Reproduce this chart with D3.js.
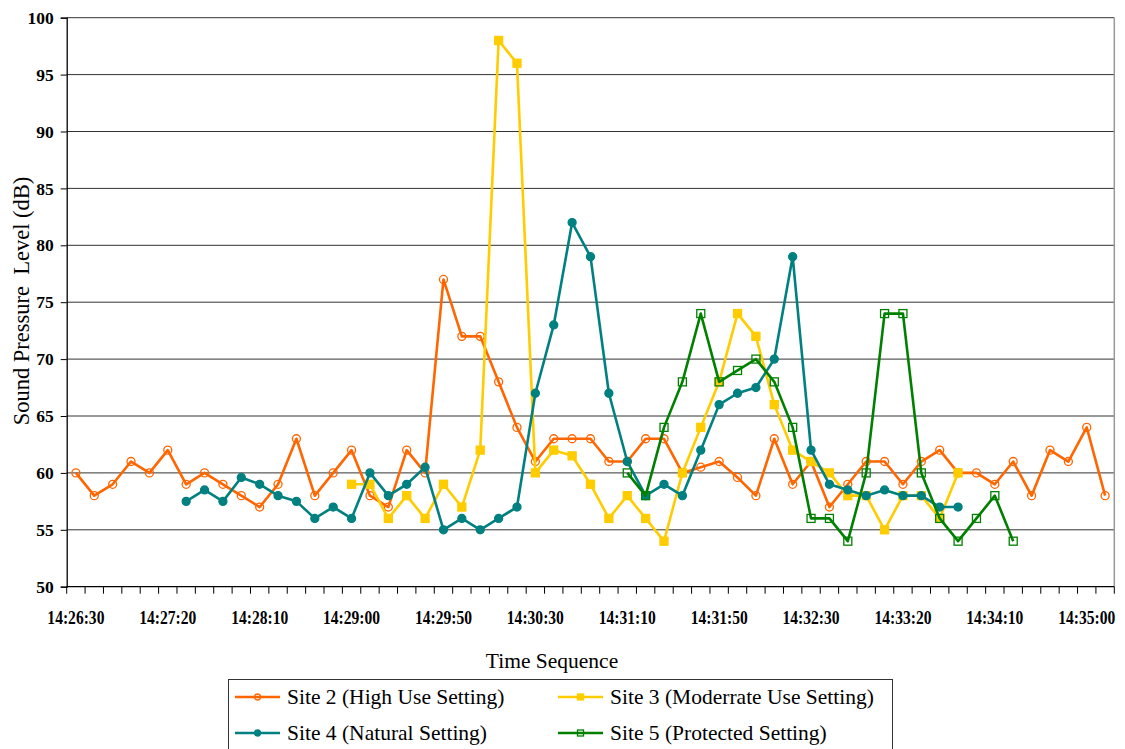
<!DOCTYPE html>
<html>
<head>
<meta charset="utf-8">
<script src="https://cdn.jsdelivr.net/npm/d3@7"></script>
<style>
  html, body { margin: 0; padding: 0; background: #fff; }
  svg { display: block; }
  text { font-family: "Liberation Serif", "Times New Roman", serif; fill: #000; }
</style>
</head>
<body>
<svg id="chart" width="1125" height="749"></svg>
<script>
// ---- data ----
const categories = [
  "14:26:30","14:26:40","14:26:50","14:27:00","14:27:10",
  "14:27:20","14:27:30","14:27:40","14:27:50","14:28:00",
  "14:28:10","14:28:20","14:28:30","14:28:40","14:28:50",
  "14:29:00","14:29:10","14:29:20","14:29:30","14:29:40",
  "14:29:50","14:29:58","14:30:06","14:30:14","14:30:22",
  "14:30:30","14:30:38","14:30:46","14:30:54","14:31:02",
  "14:31:10","14:31:18","14:31:26","14:31:34","14:31:42",
  "14:31:50","14:31:58","14:32:06","14:32:14","14:32:22",
  "14:32:30","14:32:40","14:32:50","14:33:00","14:33:10",
  "14:33:20","14:33:30","14:33:40","14:33:50","14:34:00",
  "14:34:10","14:34:20","14:34:30","14:34:40","14:34:50",
  "14:35:00","14:35:10"
];
const labelEvery = 5;

const site2 = [60,58,59,61,60,62,59,60,59,58,
               57,59,63,58,60,62,58,57,62,60,
               77,72,72,68,64,61,63,63,63,61,
               61,63,63,60,60.5,61,59.6,58,63,59,
               61,57,59,61,61,59,61,62,60,60,
               59,61,58,62,61,64,58];
const site3 = [null,null,null,null,null,null,null,null,null,null,
               null,null,null,null,null,59,59,56,58,56,
               59,57,62,98,96,60,62,61.5,59,56,
               58,56,54,60,64,68,74,72,66,62,
               61,60,58,58,55,58,58,56,60,null,
               null,null,null,null,null,null,null];
const site4 = [null,null,null,null,null,null,57.5,58.5,57.5,59.6,
               59,58,57.5,56,57,56,60,58,59,60.5,
               55,56,55,56,57,67,73,82,79,67,
               61,58,59,58,62,66,67,67.5,70,79,
               62,59,58.5,58,58.5,58,58,57,57,null,
               null,null,null,null,null,null,null];
const site5 = [null,null,null,null,null,null,null,null,null,null,
               null,null,null,null,null,null,null,null,null,null,
               null,null,null,null,null,null,null,null,null,null,
               60,58,64,68,74,68,69,70,68,64,
               56,56,54,60,74,74,60,56,54,56,
               58,54,null,null,null,null,null];

const seriesNames = ["Site 2 (High Use Setting)","Site 3 (Moderrate Use Setting)",
                     "Site 4 (Natural Setting)","Site 5 (Protected Setting)"];
const yTicks = [50,55,60,65,70,75,80,85,90,95,100];

// ---- styles ----
const styles = [
  {color:"#FF6600", marker:"circle", fill:"none"},
  {color:"#FFCC00", marker:"square", fill:"#FFCC00"},
  {color:"#008080", marker:"circle", fill:"#008080"},
  {color:"#008000", marker:"square", fill:"none"}
];
const seriesData = [site2, site3, site4, site5];

const svg = d3.select("#chart");
const L = 66.7, R = 1114.3, T = 17.7, B = 586.7;

const x = d3.scaleBand().domain(categories).range([L, R]).padding(0);
const y = d3.scaleLinear().domain([50,100]).range([B, T]);
const cx = c => x(c) + x.bandwidth()/2;

// gridlines
svg.append("g").selectAll("line").data(yTicks.filter(v => v > 50)).join("line")
  .attr("x1", L).attr("x2", R)
  .attr("y1", d => y(d)).attr("y2", d => y(d))
  .attr("stroke", "#333").attr("stroke-width", 1);

// right border
svg.append("line").attr("x1", R).attr("x2", R).attr("y1", T).attr("y2", B)
  .attr("stroke", "#999").attr("stroke-width", 1.5);

// y axis
const yAxis = svg.append("g").attr("transform", `translate(${L},0)`)
  .call(d3.axisLeft(y).tickValues(yTicks).tickSize(6).tickPadding(7).tickFormat(d3.format("d")));
yAxis.select(".domain").attr("stroke", "#000").attr("stroke-width", 1.3);
yAxis.selectAll(".tick line").attr("stroke", "#000");
yAxis.selectAll(".tick text")
  .style("font-family", '"Liberation Serif", serif')
  .style("font-size", "17.5px").style("font-weight", "bold").attr("fill", "#000");

// x axis (labels only), ticks at category boundaries
const xAxis = svg.append("g").attr("transform", `translate(0,${B})`)
  .call(d3.axisBottom(x).tickSize(0).tickPadding(24)
    .tickFormat((d, i) => i % labelEvery === 0 ? d : ""));
xAxis.select(".domain").remove();
xAxis.selectAll(".tick text")
  .style("font-family", '"Liberation Serif", serif')
  .style("font-size", "19px").style("font-weight", "bold").attr("fill", "#000")
  .attr("transform", "scale(0.82,1)");
svg.append("line").attr("x1", L).attr("x2", R).attr("y1", B).attr("y2", B)
  .attr("stroke", "#000").attr("stroke-width", 1.3);
const boundaries = categories.map(c => x(c)).concat([R]);
svg.append("g").selectAll("line").data(boundaries).join("line")
  .attr("x1", d => d).attr("x2", d => d)
  .attr("y1", B).attr("y2", B + 7)
  .attr("stroke", "#000").attr("stroke-width", 1);

// series
function drawMarker(g, style, px, py, size) {
  if (style.marker === "circle") {
    g.append("circle").attr("cx", px).attr("cy", py).attr("r", size)
      .attr("fill", style.fill).attr("stroke", style.color).attr("stroke-width", 1.3);
  } else {
    g.append("rect").attr("x", px - size).attr("y", py - size)
      .attr("width", size*2).attr("height", size*2)
      .attr("fill", style.fill).attr("stroke", style.color).attr("stroke-width", 1.3);
  }
}

seriesData.forEach((vals, si) => {
  const st = styles[si];
  const pts = categories.map((c, i) => ({c, v: vals[i]}));
  const line = d3.line().defined(d => d.v != null).x(d => cx(d.c)).y(d => y(d.v));
  const g = svg.append("g");
  g.append("path").datum(pts).attr("d", line)
    .attr("fill", "none").attr("stroke", st.color).attr("stroke-width", 2.6)
    .attr("stroke-linejoin", "round");
  pts.filter(d => d.v != null).forEach(d => {
    drawMarker(g, st, cx(d.c), y(d.v), 4);
  });
});

// axis titles
svg.append("text").attr("x", 552).attr("y", 668).attr("text-anchor", "middle")
  .style("font-size", "21.5px").text("Time Sequence");
svg.append("text").attr("transform", "translate(29,301) rotate(-90)")
  .attr("text-anchor", "middle").style("font-size", "22.5px").style("white-space", "pre")
  .text("Sound Pressure  Level (dB)");

// legend
const lg = svg.append("g");
lg.append("rect").attr("x", 228.5).attr("y", 679.5).attr("width", 664).attr("height", 80)
  .attr("fill", "#fff").attr("stroke", "#333").attr("stroke-width", 1);
const legendPos = [[235, 697], [558, 697], [235, 733], [558, 733]];
seriesNames.forEach((name, i) => {
  const [lx, ly] = legendPos[i];
  const st = styles[i];
  lg.append("line").attr("x1", lx).attr("x2", lx + 45).attr("y1", ly).attr("y2", ly)
    .attr("stroke", st.color).attr("stroke-width", 2.6);
  drawMarker(lg, st, lx + 22.5, ly, 3);
  lg.append("text").attr("x", lx + 52).attr("y", ly + 7).style("font-size", "21.5px").text(name);
});
</script>
</body>
</html>
